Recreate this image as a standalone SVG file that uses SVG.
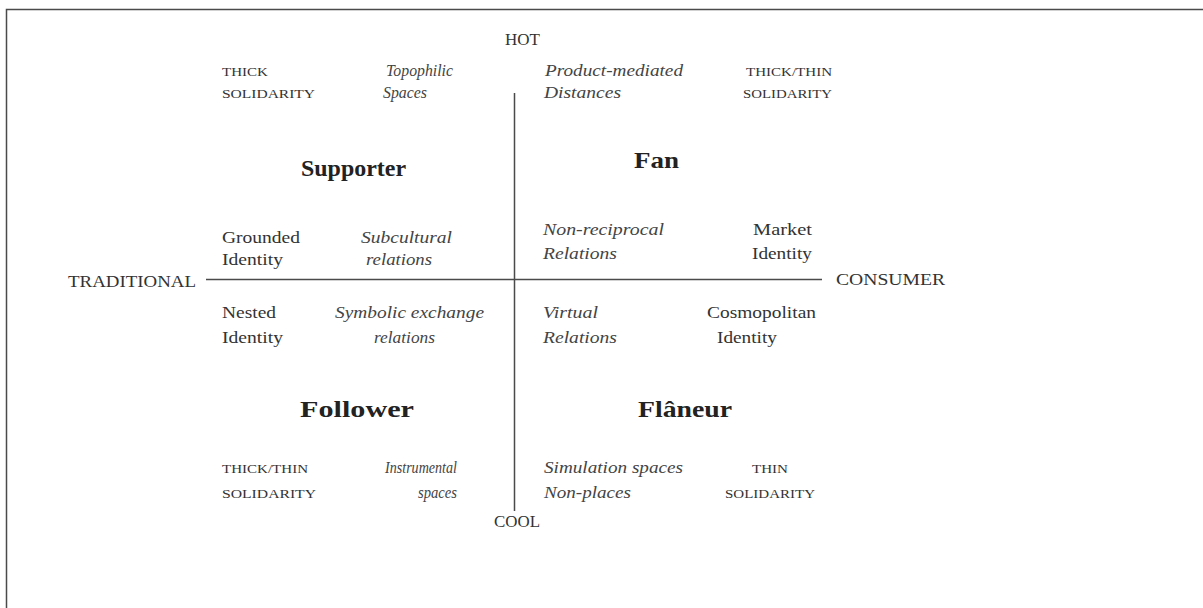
<svg xmlns="http://www.w3.org/2000/svg" width="1203" height="608" viewBox="0 0 1203 608">
<style>
text{font-family:"Liberation Serif","Times New Roman",serif;fill:#333}
.ax{font-size:17px}
.sc{font-size:12px}
.it{font-size:16.5px;font-style:italic;fill:#444}
.rg{font-size:17px}
.hd{font-size:24px;font-weight:bold;fill:#222}
.ln{stroke:#4a4a4a;stroke-width:1.5;fill:none}
</style>
<rect width="1203" height="608" fill="#fff"/>
<path class="ln" d="M6.5,608 V9.5 H1203" stroke="#444"/>
<g id="connectors">
<line class="ln" x1="514.5" y1="93" x2="514.5" y2="511"/>
<line class="ln" x1="206" y1="279.5" x2="822" y2="279.5"/>
</g>
<g id="axis-hot"><text class="ax" x="505" y="45" textLength="35" lengthAdjust="spacingAndGlyphs">HOT</text></g>
<g id="axis-cool"><text class="ax" x="494" y="527" textLength="46" lengthAdjust="spacingAndGlyphs">COOL</text></g>
<g id="axis-traditional"><text class="ax" x="68" y="287" textLength="128" lengthAdjust="spacingAndGlyphs">TRADITIONAL</text></g>
<g id="axis-consumer"><text class="ax" x="836" y="285" textLength="109" lengthAdjust="spacingAndGlyphs">CONSUMER</text></g>

<g id="supporter">
<text class="hd" x="301" y="176" textLength="105" lengthAdjust="spacingAndGlyphs">Supporter</text>
<text class="sc" x="222" y="76" textLength="46" lengthAdjust="spacingAndGlyphs">THICK</text>
<text class="sc" x="222" y="98" textLength="93" lengthAdjust="spacingAndGlyphs">SOLIDARITY</text>
<text class="it" x="386" y="76" textLength="67" lengthAdjust="spacingAndGlyphs">Topophilic</text>
<text class="it" x="383" y="98" textLength="44" lengthAdjust="spacingAndGlyphs">Spaces</text>
<text class="rg" x="222" y="243" textLength="78" lengthAdjust="spacingAndGlyphs">Grounded</text>
<text class="rg" x="222" y="265" textLength="61" lengthAdjust="spacingAndGlyphs">Identity</text>
<text class="it" x="361" y="243" textLength="91" lengthAdjust="spacingAndGlyphs">Subcultural</text>
<text class="it" x="366" y="265" textLength="66" lengthAdjust="spacingAndGlyphs">relations</text>
</g>

<g id="fan">
<text class="hd" x="634" y="168" textLength="45" lengthAdjust="spacingAndGlyphs">Fan</text>
<text class="it" x="545" y="76" textLength="138" lengthAdjust="spacingAndGlyphs">Product-mediated</text>
<text class="it" x="544" y="98" textLength="77" lengthAdjust="spacingAndGlyphs">Distances</text>
<text class="sc" x="746" y="76" textLength="86" lengthAdjust="spacingAndGlyphs">THICK/THIN</text>
<text class="sc" x="743" y="98" textLength="89" lengthAdjust="spacingAndGlyphs">SOLIDARITY</text>
<text class="it" x="543" y="235" textLength="121" lengthAdjust="spacingAndGlyphs">Non-reciprocal</text>
<text class="it" x="543" y="259" textLength="74" lengthAdjust="spacingAndGlyphs">Relations</text>
<text class="rg" x="753" y="235" textLength="59" lengthAdjust="spacingAndGlyphs">Market</text>
<text class="rg" x="752" y="259" textLength="60" lengthAdjust="spacingAndGlyphs">Identity</text>
</g>

<g id="follower">
<text class="hd" x="300" y="417" textLength="114" lengthAdjust="spacingAndGlyphs">Follower</text>
<text class="rg" x="222" y="318" textLength="54" lengthAdjust="spacingAndGlyphs">Nested</text>
<text class="rg" x="222" y="343" textLength="61" lengthAdjust="spacingAndGlyphs">Identity</text>
<text class="it" x="335" y="318" textLength="149" lengthAdjust="spacingAndGlyphs">Symbolic exchange</text>
<text class="it" x="374" y="343" textLength="61" lengthAdjust="spacingAndGlyphs">relations</text>
<text class="sc" x="222" y="473" textLength="86" lengthAdjust="spacingAndGlyphs">THICK/THIN</text>
<text class="sc" x="222" y="498" textLength="94" lengthAdjust="spacingAndGlyphs">SOLIDARITY</text>
<text class="it" x="385" y="473" textLength="72" lengthAdjust="spacingAndGlyphs">Instrumental</text>
<text class="it" x="418" y="498" textLength="39" lengthAdjust="spacingAndGlyphs">spaces</text>
</g>

<g id="flaneur">
<text class="hd" x="638" y="417" textLength="94" lengthAdjust="spacingAndGlyphs">Flâneur</text>
<text class="it" x="543" y="318" textLength="55" lengthAdjust="spacingAndGlyphs">Virtual</text>
<text class="it" x="543" y="343" textLength="74" lengthAdjust="spacingAndGlyphs">Relations</text>
<text class="rg" x="707" y="318" textLength="109" lengthAdjust="spacingAndGlyphs">Cosmopolitan</text>
<text class="rg" x="717" y="343" textLength="60" lengthAdjust="spacingAndGlyphs">Identity</text>
<text class="it" x="544" y="473" textLength="139" lengthAdjust="spacingAndGlyphs">Simulation spaces</text>
<text class="it" x="544" y="498" textLength="87" lengthAdjust="spacingAndGlyphs">Non-places</text>
<text class="sc" x="752" y="473" textLength="36" lengthAdjust="spacingAndGlyphs">THIN</text>
<text class="sc" x="725" y="498" textLength="90" lengthAdjust="spacingAndGlyphs">SOLIDARITY</text>
</g>
</svg>
